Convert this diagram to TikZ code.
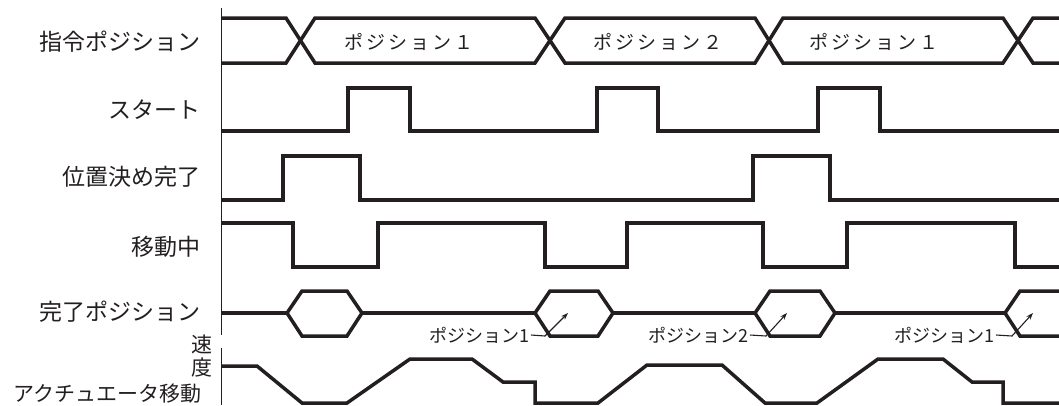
\documentclass[tikz,border=0pt]{standalone}
\usepackage{fontspec}
\usepackage{xcolor}
\usepackage{tikz}
\usetikzlibrary{
	arrows.meta,
	positioning,
	calc
}
\setmainfont{Noto Sans CJK JP}
\definecolor{ink}{HTML}{231F20}

\begin{document}
\begin{tikzpicture}[x=1pt,y=-1pt,
		wave/.style={draw=ink,line width=3.5pt,line join=miter},
		rowlabel/.style={anchor=east,inner sep=0pt,text=ink,font=\fontsize{23}{23}\selectfont},
		poslabel/.style={inner sep=0pt,text=ink,font=\fontsize{19}{19}\selectfont\addfontfeatures{LetterSpace=15}},
		donelabel/.style={anchor=east,inner sep=1pt,text=ink,font=\fontsize{18}{18}\selectfont},
		leader/.style={draw=ink,line width=1.1pt,-{Stealth[length=7pt,width=5pt]}}]
		
		\useasboundingbox (0,0) rectangle (1059,405);
		
		% time axis
		\draw[ink,line width=1pt] (221,8) -- (221,335);
		\draw[ink,line width=1pt] (221,348) -- (221,405);
		
		% row labels
		\node[rowlabel] (cmdpos) at (201,42) {指令ポジション};
		\node[rowlabel] (start) at (201,110) {スタート};
		\node[rowlabel] (inpos) at (201,177) {位置決め完了};
		\node[rowlabel] (moving) at (201,247) {移動中};
		\node[rowlabel] (donepos) at (201,312) {完了ポジション};
		\node[rowlabel,font=\fontsize{21}{21}\selectfont] (vel1) at (213,344) {速};
		\node[rowlabel,font=\fontsize{21}{21}\selectfont] (vel2) at (213,368) {度};
		\node[rowlabel,font=\fontsize{21}{21}\selectfont] (actmove) at (202,394) {アクチュエータ移動};
		
		% command position
		\draw[wave] (221,18) -- (286,18) -- (315,63) -- (535,63) -- (565,18) -- (755,18) -- (783,63) -- (1003,63) -- (1033,18) -- (1059,18);
		\draw[wave] (221,63) -- (286,63) -- (315,18) -- (535,18) -- (565,63) -- (755,63) -- (783,18) -- (1003,18) -- (1033,63) -- (1059,63);
		\node[poslabel] (cmd1) at (409,42) {ポジション１};
		\node[poslabel] (cmd2) at (658,42) {ポジション２};
		\node[poslabel] (cmd3) at (874,42) {ポジション１};
		
		% start
		\draw[wave] (221,131) -- (348,131) -- (348,88) -- (410,88) -- (410,131) -- (597,131) -- (597,88) -- (658,88) -- (658,131)
			-- (818,131) -- (818,88) -- (880,88) -- (880,131) -- (1059,131);
		
		% positioning complete
		\draw[wave] (221,200) -- (283,200) -- (283,156) -- (360,156) -- (360,200) -- (753,200) -- (753,156) -- (830,156) -- (830,200) -- (1059,200);
		
		% moving
		\draw[wave] (221,223) -- (293,223) -- (293,267) -- (378,267) -- (378,223) -- (545,223) -- (545,267) -- (627,267) -- (627,223)
			-- (763,223) -- (763,267) -- (847,267) -- (847,223) -- (1015,223) -- (1015,267) -- (1059,267);
		
		% completed position
		\draw[wave] (221,313) -- (287,313);
		\draw[wave] (362,313) -- (535,313);
		\draw[wave] (613,313) -- (755,313);
		\draw[wave] (835,313) -- (1005,313);
		\foreach \a/\b in {
			287/362,
			535/613,
			755/835
		}
		\draw[wave] (\a,313) -- (\a+15,291) -- (\b-15,291) -- (\b,313) -- (\b-15,336) -- (\a+15,336) -- cycle;
		\draw[wave] (1059,291) -- (1020,291) -- (1005,313) -- (1020,336) -- (1059,336);
		
		\node[donelabel] (done1) at (531,335) {ポジション1};
		\node[donelabel] (done2) at (750,335) {ポジション2};
		\node[donelabel] (done3) at (996,335) {ポジション1};
		\coordinate (tip1) at (568,313);
		\coordinate (tip2) at (787,313);
		\coordinate (tip3) at (1033,313);
		\draw[leader] (done1.east) -- ++(14,1) -- (tip1);
		\draw[leader] (done2.east) -- ++(16,1) -- (tip2);
		\draw[leader] (done3.east) -- ++(16,1) -- (tip3);
		
		% actuator speed
		\draw[wave] (221,366) -- (257,366) -- (302,403) -- (347,403) -- (410,359) -- (472,359) -- (503,382) -- (535,382) -- (535,403)
			-- (598,403) -- (647,365) -- (722,365) -- (765,403) -- (817,403) -- (878,359) -- (943,359) -- (972,382) -- (1003,382)
			-- (1003,403) -- (1059,403);
		
	\end{tikzpicture}
\end{document}
